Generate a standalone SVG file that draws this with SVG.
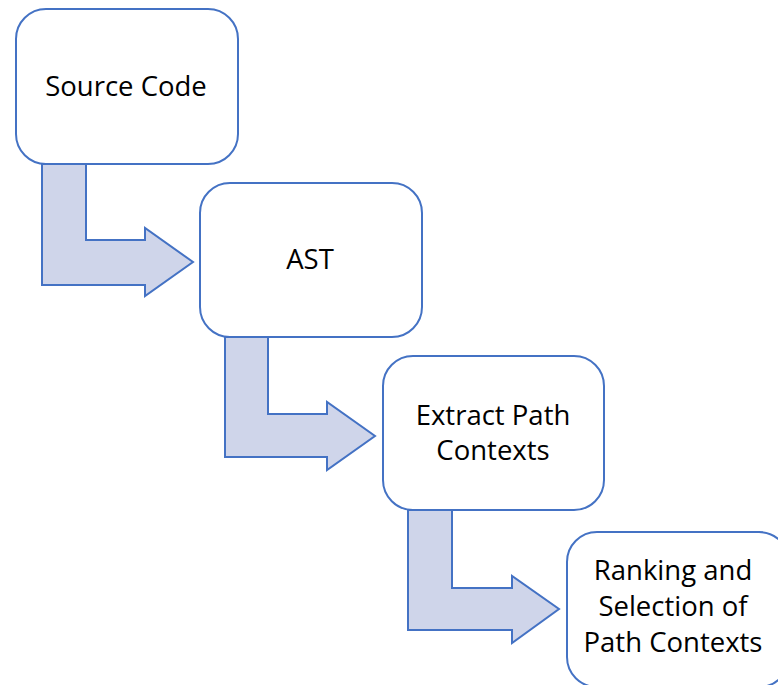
<svg xmlns="http://www.w3.org/2000/svg" width="778" height="685" viewBox="0 0 778 685">
<style>
.box{fill:#ffffff;stroke:#4472C4;stroke-width:2}
.arr{fill:#CFD5EA;stroke:#4472C4;stroke-width:2;stroke-linejoin:miter}
.t{font-family:"Open Sans","Liberation Sans",Arial,sans-serif;font-size:27.5px;fill:#000000;text-anchor:middle}
</style>
<rect width="778" height="685" fill="#ffffff"/>
<g id="connectors">
<path class="arr" d="M42,164 L86,164 L86,240 L145,240 L145,228 L193,262 L145,296 L145,285 L42,285 Z"/>
<path class="arr" d="M225,337 L268,337 L268,414 L327,414 L327,402 L375,436 L327,470 L327,457 L225,457 Z"/>
<path class="arr" d="M408,510 L452,510 L452,588 L512,588 L512,576 L559,609 L512,643 L512,630 L408,630 Z"/>
</g>
<g id="source-code">
<rect class="box" x="16" y="9" width="222" height="155" rx="30" ry="30"/>
<text class="t" x="126" y="96">Source Code</text>
</g>
<g id="ast">
<rect class="box" x="200" y="183" width="222" height="154" rx="30" ry="30"/>
<text class="t" x="310" y="269">AST</text>
</g>
<g id="extract">
<rect class="box" x="383" y="356" width="221" height="154" rx="30" ry="30"/>
<text class="t" x="493" y="425">Extract Path</text>
<text class="t" x="493" y="460">Contexts</text>
</g>
<g id="ranking">
<rect class="box" x="567" y="532" width="222" height="155" rx="30" ry="30"/>
<text class="t" x="673" y="580">Ranking and</text>
<text class="t" x="673" y="616">Selection of</text>
<text class="t" x="673" y="652">Path Contexts</text>
</g>
</svg>
